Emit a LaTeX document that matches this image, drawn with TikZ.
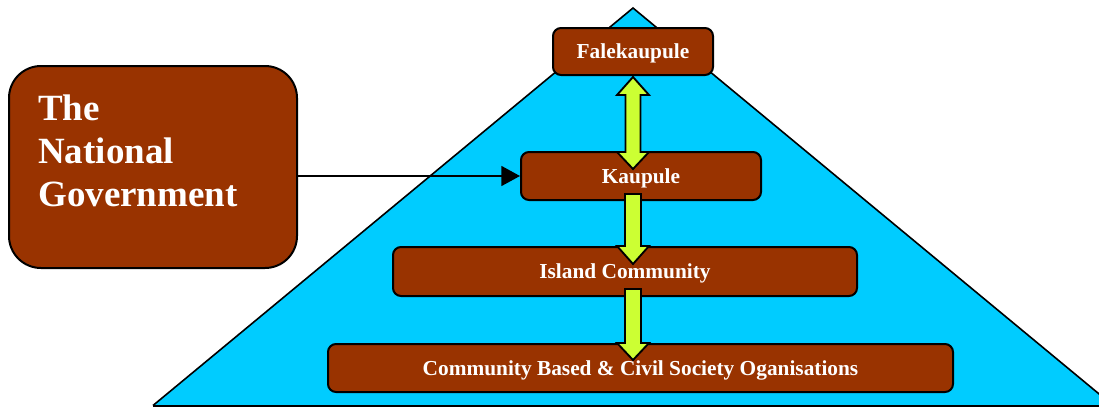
\documentclass[tikz,border=0pt]{standalone}
\usepackage{fontspec}
\setmainfont{Liberation Serif}
\usetikzlibrary{calc,arrows.meta}
\definecolor{boxbrown}{HTML}{993300}
\definecolor{pyrcyan}{HTML}{00CCFF}
\definecolor{arrgreen}{HTML}{CCFF33}
\tikzset{
  levelbox/.style={draw=black, line width=1.5pt, fill=boxbrown, rounded corners=6pt,
    text=white, font=\bfseries\fontsize{16}{19}\selectfont, inner sep=0pt,
    text height=11.5pt, text depth=0.5pt},
  govbox/.style={draw=black, line width=1.5pt, fill=boxbrown, rounded corners=24pt,
    minimum width=216pt, minimum height=151.5pt, inner sep=0pt},
  govtext/.style={text=white, font=\bfseries\fontsize{27.75}{32.25}\selectfont,
    align=left, inner sep=0pt},
  fatarrow/.style={draw=black, line width=1.4pt, fill=arrgreen, line join=miter},
  link/.style={draw=black, line width=1.2pt, -{Triangle[length=14pt,width=15pt]}},
}
\begin{document}
\begin{tikzpicture}[x=0.75pt,y=-0.75pt]
\useasboundingbox (0,0) rectangle (1099,407);
% pyramid
\fill[pyrcyan] (633,8) -- (153,405.5) -- (1113,405.5) -- cycle;
\draw[line width=1.2pt] (153,405.5) -- (633,8) -- (1113,405.5);
\draw[line width=1.5pt] (153,405.5) -- (1099,405.5);
% level boxes
\node[levelbox, minimum width=120pt, minimum height=35.25pt] (fale) at (633,51.5) {Falekaupule};
\node[levelbox, minimum width=180pt, minimum height=36pt] (kau) at (641,176) {Kaupule};
\node[levelbox, minimum width=348pt, minimum height=36.75pt] (isl) at (625,271.5) {Island Community};
\node[levelbox, minimum width=468.75pt, minimum height=36pt] (cb) at (640.5,368) {Community Based \& Civil Society Oganisations};
% national government
\node[govbox] (gov) at (153,167) {};
\node[govtext, anchor=north west] (govlabel) at (38,95) {The\\National\\Government};
% connector
\draw[link] (gov.east |- kau.west) -- (kau.west);
% green arrows
\coordinate (a1) at (fale.south);
\coordinate (b1) at (fale.south |- kau.north);
\draw[fatarrow] ($(a1)+(0,1)$) -- ($(a1)+(16,19)$) -- ($(a1)+(7.5,19)$) -- ($(b1)+(7.5,1)$)
  -- ($(b1)+(16,1)$) -- ($(b1)+(0,18)$) -- ($(b1)+(-16,1)$) -- ($(b1)+(-7.5,1)$)
  -- ($(a1)+(-7.5,19)$) -- ($(a1)+(-16,19)$) -- cycle;
\coordinate (s2) at (fale.south |- kau.south);
\coordinate (t2) at (fale.south |- isl.north);
\draw[fatarrow] ($(s2)+(-8,-7)$) -- ($(s2)+(8,-7)$) -- ($(t2)+(8,0)$) -- ($(t2)+(16,0)$)
  -- ($(t2)+(0,18)$) -- ($(t2)+(-16,0)$) -- ($(t2)+(-8,0)$) -- cycle;
\coordinate (s3) at (fale.south |- isl.south);
\coordinate (t3) at (fale.south |- cb.north);
\draw[fatarrow] ($(s3)+(-8,-8)$) -- ($(s3)+(8,-8)$) -- ($(t3)+(8,0)$) -- ($(t3)+(16,0)$)
  -- ($(t3)+(0,17)$) -- ($(t3)+(-16,0)$) -- ($(t3)+(-8,0)$) -- cycle;
\end{tikzpicture}
\end{document}
